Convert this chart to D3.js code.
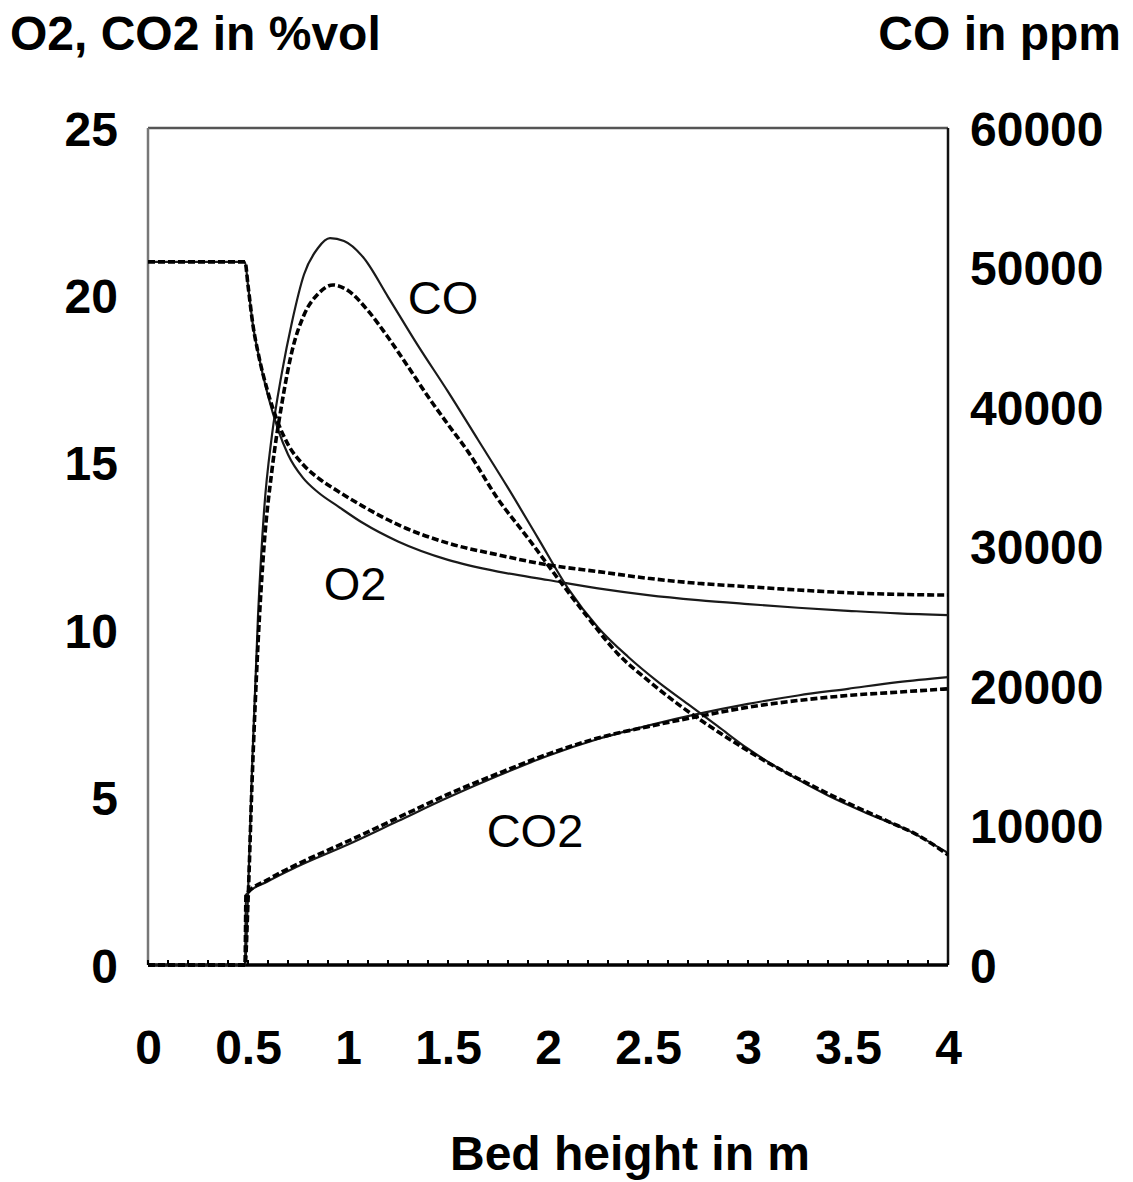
<!DOCTYPE html>
<html>
<head>
<meta charset="utf-8">
<script src="https://cdn.jsdelivr.net/npm/d3@7"></script>
<style>
  html, body { margin: 0; padding: 0; background: #fff; }
  svg { display: block; }
  .tick text { font-family: "Liberation Sans", Arial, sans-serif; font-weight: bold; font-size: 48px; fill: #000; }
  .title { font-family: "Liberation Sans", Arial, sans-serif; font-weight: bold; font-size: 48px; fill: #000; }
  .series-label { font-family: "Liberation Sans", Arial, sans-serif; font-size: 47px; fill: #000; }
</style>
</head>
<body>
<svg id="chart" width="1133" height="1182"></svg>
<script>
// Bed height (m) ticks and value-axis ticks
const xTicks = [0, 0.5, 1, 1.5, 2, 2.5, 3, 3.5, 4];
const leftTicks = [0, 5, 10, 15, 20, 25];
const rightTicks = [0, 10000, 20000, 30000, 40000, 50000, 60000];

// O2 in %vol — measured
const o2MeasX = [0, 0.47, 0.485, 0.5, 0.525, 0.55, 0.6, 0.65, 0.7, 0.775, 0.85, 0.95, 1.075, 1.25, 1.5, 1.75, 2.0, 2.25, 2.5, 2.75, 3.0, 3.25, 3.5, 3.75, 4.0];
const o2MeasY = [21.0, 21.0, 21.0, 20.3, 19.1, 18.3, 17.1, 16.2, 15.55, 14.95, 14.55, 14.15, 13.7, 13.15, 12.6, 12.25, 11.95, 11.75, 11.55, 11.4, 11.3, 11.2, 11.12, 11.07, 11.05];

// O2 in %vol — simulated
const o2SimX = [0, 0.47, 0.485, 0.5, 0.525, 0.55, 0.6, 0.65, 0.7, 0.775, 0.85, 0.95, 1.075, 1.25, 1.5, 1.75, 2.0, 2.25, 2.5, 2.75, 3.0, 3.25, 3.5, 3.75, 4.0];
const o2SimY = [21.0, 21.0, 21.0, 20.3, 19.1, 18.3, 17.0, 16.0, 15.25, 14.55, 14.12, 13.7, 13.2, 12.65, 12.1, 11.75, 11.5, 11.25, 11.05, 10.9, 10.78, 10.67, 10.58, 10.5, 10.45];

// CO2 in %vol — simulated
const co2SimX = [0, 0.47, 0.485, 0.49, 0.6, 0.75, 1.0, 1.25, 1.5, 1.75, 2.0, 2.25, 2.5, 2.75, 3.0, 3.25, 3.5, 3.75, 4.0];
const co2SimY = [0, 0, 0, 2.1, 2.5, 2.95, 3.6, 4.3, 5.0, 5.65, 6.25, 6.75, 7.15, 7.5, 7.8, 8.05, 8.25, 8.45, 8.6];

// CO2 in %vol — measured
const co2MeasX = [0, 0.47, 0.485, 0.49, 0.6, 0.75, 1.0, 1.25, 1.5, 1.75, 2.0, 2.25, 2.5, 2.75, 3.0, 3.25, 3.5, 3.75, 4.0];
const co2MeasY = [0, 0, 0, 2.1, 2.55, 3.02, 3.7, 4.4, 5.1, 5.72, 6.3, 6.78, 7.12, 7.42, 7.7, 7.9, 8.05, 8.15, 8.25];

// CO in ppm — simulated
const coSimX = [0, 0.47, 0.485, 0.5, 0.52, 0.55, 0.58, 0.62, 0.67, 0.72, 0.78, 0.85, 0.91, 0.98, 1.075, 1.2, 1.35, 1.5, 1.65, 1.8, 1.95, 2.1, 2.25, 2.4, 2.55, 2.7, 2.85, 3.0, 3.2, 3.4, 3.6, 3.8, 4.0];
const coSimY = [0, 0, 0, 5000, 14000, 25000, 32500, 38000, 42500, 46100, 49500, 51400, 52100, 51900, 50750, 47900, 44400, 41100, 37650, 34200, 30600, 27000, 24200, 22100, 20300, 18700, 17100, 15500, 13700, 12150, 10850, 9650, 8030];

// CO in ppm — measured
const coMeasX = [0, 0.47, 0.485, 0.5, 0.52, 0.55, 0.58, 0.62, 0.67, 0.72, 0.78, 0.85, 0.925, 1.0, 1.1, 1.2, 1.3, 1.4, 1.5, 1.6, 1.75, 1.9, 2.05, 2.2, 2.35, 2.5, 2.65, 2.8, 2.95, 3.1, 3.3, 3.5, 3.7, 3.85, 4.0];
const coMeasY = [0, 0, 0, 4500, 13000, 23000, 30000, 35500, 40300, 44000, 46600, 48100, 48750, 48350, 46900, 45000, 42900, 40750, 38750, 36800, 33400, 30600, 27700, 24900, 22300, 20400, 18700, 17200, 15800, 14500, 13000, 11600, 10300, 9300, 7900];

const svg = d3.select("#chart");
const plot = { left: 148, right: 948, top: 128, bottom: 965 };

const x = d3.scaleLinear().domain([0, 4]).range([plot.left, plot.right]);
const yL = d3.scaleLinear().domain([0, 25]).range([plot.bottom, plot.top]);
const yR = d3.scaleLinear().domain([0, 60000]).range([plot.bottom, plot.top]);

const zip = (xs, ys) => xs.map((v, i) => [v, ys[i]]);

const curve = d3.curveMonotoneX;
const lineL = d3.line().x(d => x(d[0])).y(d => yL(d[1])).curve(curve);
const lineR = d3.line().x(d => x(d[0])).y(d => yR(d[1])).curve(curve);

// Frame
svg.append("line").attr("x1", plot.left).attr("x2", plot.right).attr("y1", plot.top).attr("y2", plot.top)
  .attr("stroke", "#555").attr("stroke-width", 2.5);
svg.append("line").attr("x1", plot.left).attr("x2", plot.left).attr("y1", plot.top).attr("y2", plot.bottom)
  .attr("stroke", "#777").attr("stroke-width", 2.5);
svg.append("line").attr("x1", plot.right).attr("x2", plot.right).attr("y1", plot.top).attr("y2", plot.bottom)
  .attr("stroke", "#111").attr("stroke-width", 2.5);

// Minor ticks along the bottom
const minor = d3.range(0, 4.001, 0.1);
svg.append("g").selectAll("line").data(minor).join("line")
  .attr("x1", d => x(d)).attr("x2", d => x(d))
  .attr("y1", plot.bottom).attr("y2", plot.bottom - 5)
  .attr("stroke", "#000").attr("stroke-width", 2);

// Axes (labels only)
const gx = svg.append("g").attr("transform", `translate(0,${plot.bottom})`)
  .call(d3.axisBottom(x).tickValues(xTicks).tickSize(0).tickPadding(0).tickFormat(d3.format("")));
gx.select(".domain").remove();
gx.selectAll(".tick text").attr("y", 99).attr("dy", 0);

const gl = svg.append("g").attr("transform", `translate(${plot.left},0)`)
  .call(d3.axisLeft(yL).tickValues(leftTicks).tickSize(0).tickPadding(0).tickFormat(d3.format("")));
gl.select(".domain").remove();
gl.selectAll(".tick text").attr("x", -30).attr("dy", 17);

const gr = svg.append("g").attr("transform", `translate(${plot.right},0)`)
  .call(d3.axisRight(yR).tickValues(rightTicks).tickSize(0).tickPadding(0).tickFormat(d3.format("")));
gr.select(".domain").remove();
gr.selectAll(".tick text").attr("x", 22).attr("dy", 17);

// Bottom axis line
svg.append("line").attr("x1", plot.left).attr("x2", plot.right).attr("y1", plot.bottom).attr("y2", plot.bottom)
  .attr("stroke", "#000").attr("stroke-width", 3.5);

// Curves: simulated (thin solid), measured (heavy dashed)
const series = [
  { d: zip(o2SimX, o2SimY), f: lineL, sim: true },
  { d: zip(co2SimX, co2SimY), f: lineL, sim: true },
  { d: zip(coSimX, coSimY), f: lineR, sim: true },
  { d: zip(o2MeasX, o2MeasY), f: lineL, sim: false },
  { d: zip(co2MeasX, co2MeasY), f: lineL, sim: false },
  { d: zip(coMeasX, coMeasY), f: lineR, sim: false }
];

svg.append("g").selectAll("path").data(series).join("path")
  .attr("d", s => s.f(s.d))
  .attr("fill", "none")
  .attr("stroke", s => s.sim ? "#1a1a1a" : "#000")
  .attr("stroke-width", s => s.sim ? 2.2 : 3.6)
  .attr("stroke-dasharray", s => s.sim ? null : "7,3");

// Series labels
svg.append("text").attr("class", "series-label").attr("x", 443).attr("y", 314).attr("text-anchor", "middle").text("CO");
svg.append("text").attr("class", "series-label").attr("x", 355).attr("y", 600).attr("text-anchor", "middle").text("O2");
svg.append("text").attr("class", "series-label").attr("x", 535).attr("y", 847).attr("text-anchor", "middle").text("CO2");

// Axis titles
svg.append("text").attr("class", "title").attr("x", 10).attr("y", 50).text("O2, CO2 in %vol");
svg.append("text").attr("class", "title").attr("x", 1121).attr("y", 50).attr("text-anchor", "end").text("CO in ppm");
svg.append("text").attr("class", "title").attr("x", 630).attr("y", 1170).attr("text-anchor", "middle").text("Bed height in m");
</script>
</body>
</html>
